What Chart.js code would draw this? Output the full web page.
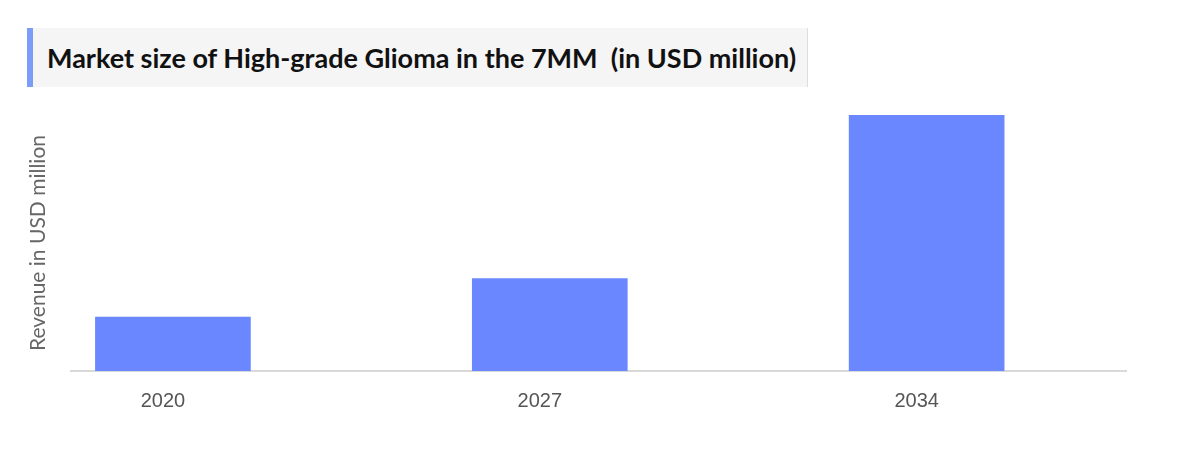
<!DOCTYPE html>
<html>
<head>
<meta charset="utf-8">
<script src="https://cdn.jsdelivr.net/npm/chart.js@4"></script>
<style>
  html, body { margin: 0; padding: 0; background: #fff; }
  #wrap { position: relative; width: 1200px; height: 449px; }
  #titleBox {
    position: absolute; left: 27px; top: 28px; width: 760px; height: 59px;
    background: #f5f5f5; border-left: 6px solid #7b9cf7; border-right: 1px solid #dedede;
    font-family: Lato, sans-serif; font-weight: bold; font-size: 27px; color: #111;
    line-height: 59px; padding-left: 14px; white-space: pre;
  }
</style>
</head>
<body>
<div id="wrap">
  <canvas id="marketChart" width="1200" height="449"></canvas>
  <div id="titleBox">Market size of High-grade Glioma in the 7MM  (in USD million)</div>
</div>
<script>
const years = [2020, 2027, 2034];
const revenue = [540, 925, 2560]; // USD million
const tickYears = [2020, 2027, 2034];

const data = {
  datasets: [{
    label: 'Market size',
    data: years.map((y, i) => ({ x: y, y: revenue[i] })),
    backgroundColor: '#6a87ff',
    barThickness: 155
  }]
};

const config = {
  type: 'bar',
  data: data,
  options: {
    responsive: false,
    animation: false,
    layout: { padding: { left: 20, right: 74, top: 115, bottom: 26 } },
    plugins: {
      legend: { display: false },
      tooltip: { enabled: false }
    },
    scales: {
      x: {
        type: 'linear',
        offset: false,
        min: 2018.105,
        max: 2037.703,
        grid: { display: false },
        border: { display: true, color: '#d9d9d9', width: 2 },
        afterBuildTicks: (axis) => {
          axis.ticks = tickYears.map(v => ({ value: v }));
        },
        ticks: {
          padding: 10,
          labelOffset: -10,
          color: '#555',
          font: { family: 'Liberation Sans', size: 20 },
          callback: (v) => String(v)
        }
      },
      y: {
        min: 0,
        max: Math.max(...revenue),
        grid: { display: false },
        border: { display: false },
        ticks: { display: false },
        title: {
          display: true,
          text: 'Revenue in USD million',
          color: '#666',
          font: { family: 'Lato', size: 21 },
          padding: { top: 5.7, bottom: 12 }
        }
      }
    }
  }
};

const marketChart = new Chart(document.getElementById('marketChart'), config);
</script>
</body>
</html>
